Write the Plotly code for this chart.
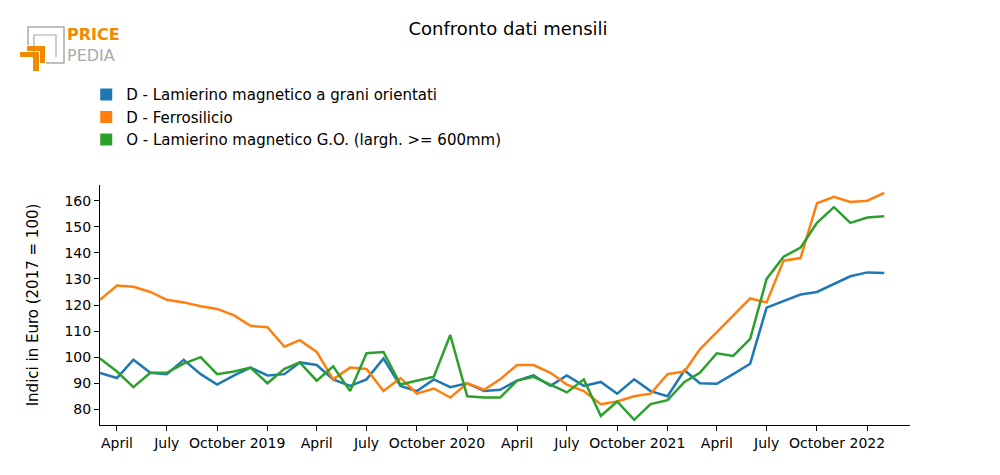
import pandas as pd
import plotly.graph_objects as go

months = pd.date_range("2018-03-01", "2022-02-01", freq="MS")

blue_vals = [94, 92, 99, 94, 93.5, 99, 93.5, 89.5, 93, 96, 93, 93.5,
             98, 97, 91.5, 89, 91.5, 99.5, 89, 87, 91.5, 88.5, 90, 87,
             87.5, 91, 93, 89, 93, 89, 90.5, 86, 91.5, 87, 85, 95,
             90, 89.8, 93.5, 97.5, 119, 121.5, 124, 125, 128, 131, 132.5, 132.3]
orange_vals = [122, 127.5, 127, 125, 122, 121, 119.5, 118.5, 116, 112, 111.5, 104,
               106.5, 102, 91.5, 96, 95.5, 87, 92, 86, 88, 84.5, 90, 87.5,
               91.5, 97, 97, 94, 89.5, 87, 82, 83, 85, 86, 93.5, 94.5,
               103, 109.5, 116, 122.5, 121, 137, 138, 159, 161.5, 159.5, 160, 163]
green_vals = [99.5, 94.5, 88.5, 94, 94, 97.5, 100, 93.5, 94.5, 96, 90, 95.5,
              98, 91, 96.5, 87, 101.5, 102, 89.5, 91, 92.5, 108.5, 85, 84.5,
              84.5, 91, 92.5, 89.5, 86.5, 91.5, 77.5, 83, 76, 82, 83.5, 90.5,
              94, 101.5, 100.5, 107, 130, 138.5, 142, 151.5, 157.5, 151.5, 153.5, 154]

names = ["D - Lamierino magnetico a grani orientati",
         "D - Ferrosilicio",
         "O - Lamierino magnetico G.O. (largh. >= 600mm)"]
colors = ["#1f77b4", "#ff7f0e", "#2ca02c"]

fig = go.Figure()
for vals, name, c in zip([blue_vals, orange_vals, green_vals], names, colors):
    fig.add_trace(go.Scatter(x=months, y=vals, mode="lines", name=name,
                             line=dict(color=c, width=2.5), showlegend=False))
    # square patch for the legend only
    fig.add_trace(go.Scatter(x=[None], y=[None], mode="markers", name=name,
                             marker=dict(symbol="square", size=15, color=c)))

axis_style = dict(showline=True, linecolor="black", linewidth=1, ticks="outside",
                  ticklen=5, tickcolor="black", showgrid=False, zeroline=False,
                  automargin=False, tickfont=dict(size=14, color="black"))

# x tick labels: month names, year at January
tick_dates = pd.date_range("2018-04-01", "2022-01-01", freq="3MS")
tick_text = [d.strftime("%Y") if d.month == 1 else d.strftime("%B") for d in tick_dates]
fig.update_xaxes(range=["2018-03-01", "2022-03-20"], tickvals=tick_dates,
                 ticktext=tick_text, **axis_style)
fig.update_yaxes(range=[74, 166], tickvals=[80, 90, 100, 110, 120, 130, 140, 150, 160],
                 title=dict(text="Indici in Euro (2017 = 100)", standoff=22,
                            font=dict(size=15, color="black")),
                 **axis_style)

# page has an 8px body margin, so figure coords = picture coords - 8
OFF = 8
L, R, T, B = 100 - OFF, 910 - OFF, 185 - OFF, 425 - OFF

fig.update_layout(
    width=1000, height=475,
    paper_bgcolor="white", plot_bgcolor="white",
    font=dict(family="DejaVu Sans", color="black"),
    title=dict(text="Confronto dati mensili", x=0.5, y=0.969, xanchor="center", yanchor="top",
               font=dict(size=18, color="black")),
    margin=dict(l=L, r=1000 - R, t=T, b=475 - B, autoexpand=False),
    legend=dict(x=-0.017, y=0.852, yref="container", xanchor="left", yanchor="top",
                font=dict(size=15), itemwidth=30, tracegroupgap=0,
                itemsizing="constant"),
)

# logo (paper coords from picture pixel positions)
def px(x):
    return (x - OFF - L) / float(R - L)

def py(y):
    return (B - (y - OFF)) / float(B - T)

fig.add_shape(type="path", xref="paper", yref="paper",
              path=f"M {px(28)},{py(45)} L {px(28)},{py(27)} L {px(64)},{py(27)} L {px(64)},{py(63)} L {px(46)},{py(63)}",
              line=dict(color="#aaaaaa", width=1.5))
fig.add_shape(type="path", xref="paper", yref="paper",
              path=f"M {px(34)},{py(52)} L {px(34)},{py(35)} L {px(56)},{py(35)} L {px(56)},{py(57)}",
              line=dict(color="#aaaaaa", width=1.2))
fig.add_shape(type="path", xref="paper", yref="paper",
              path=f"M {px(20)},{py(52)} L {px(20)},{py(57)} L {px(33)},{py(57)} L {px(33)},{py(71)} L {px(39)},{py(71)} L {px(39)},{py(52)} Z",
              line=dict(width=0), fillcolor="#f08a00")
fig.add_shape(type="path", xref="paper", yref="paper",
              path=f"M {px(27)},{py(46)} L {px(27)},{py(51)} L {px(40)},{py(51)} L {px(40)},{py(63)} L {px(45)},{py(63)} L {px(45)},{py(46)} Z",
              line=dict(width=0), fillcolor="#f08a00")
fig.add_annotation(text="<b>PRICE</b>", xref="paper", yref="paper", x=px(65), y=py(46),
                   xanchor="left", yanchor="bottom", showarrow=False,
                   font=dict(size=16, color="#f08a00"))
fig.add_annotation(text="PEDIA", xref="paper", yref="paper", x=px(65), y=py(44),
                   xanchor="left", yanchor="top", showarrow=False,
                   font=dict(size=16, color="#aaaaaa"))

fig.write_html("out.html")
